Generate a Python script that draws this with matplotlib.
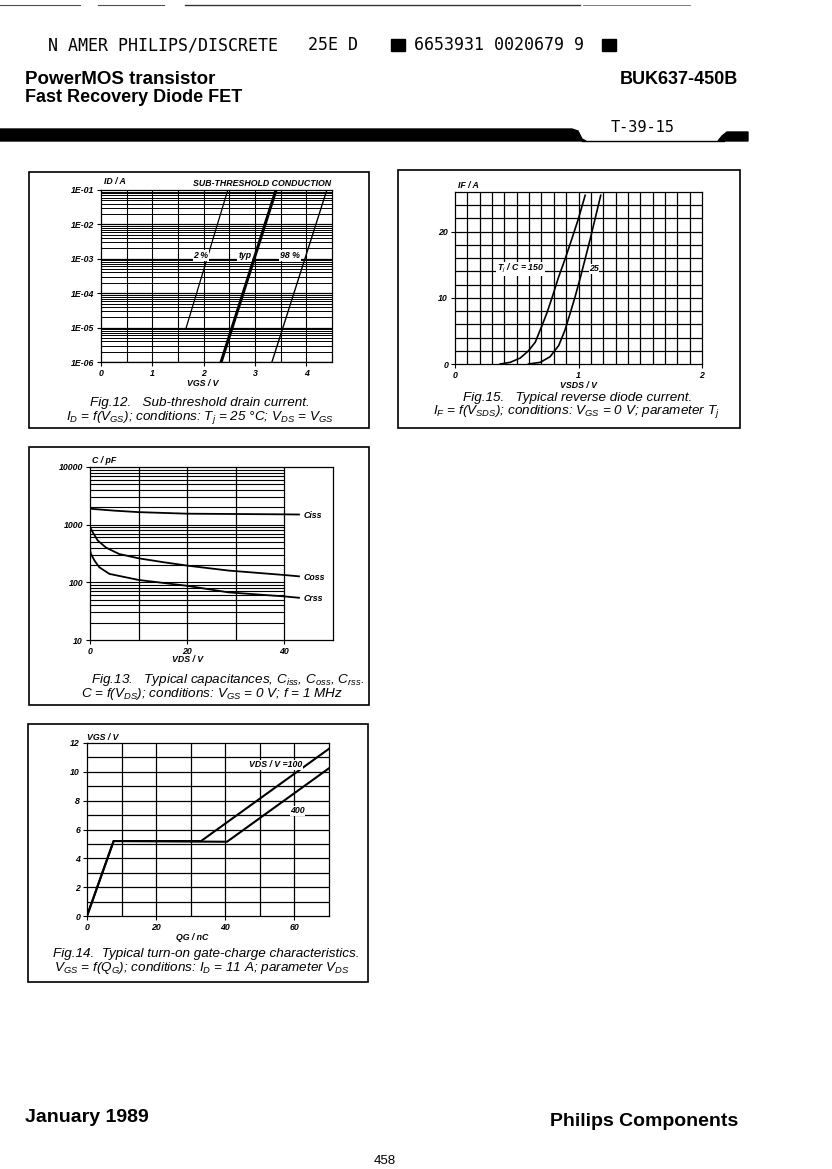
import numpy as np
import matplotlib
matplotlib.use("Agg")
import matplotlib.pyplot as plt
from matplotlib.patches import Rectangle, Polygon
from matplotlib.lines import Line2D

plt.rcParams['font.family'] = ['Liberation Sans', 'DejaVu Sans']
plt.rcParams['mathtext.fontset'] = 'custom'
plt.rcParams['mathtext.rm'] = 'Liberation Sans:italic'
plt.rcParams['mathtext.it'] = 'Liberation Sans:italic'
plt.rcParams['mathtext.default'] = 'it'

# Fig.12 sub-threshold drain current (VGS / V, ID / A)
st_vgs_2pct = [1.66, 2.47]
st_id_2pct = [1e-5, 1e-1]
st_vgs_typ = [2.34, 3.41]
st_id_typ = [1e-6, 1e-1]
st_vgs_98pct = [3.33, 4.40]
st_id_98pct = [1e-6, 1e-1]
st_xticks = [0, 1, 2, 3, 4]
st_yticks = [1e-6, 1e-5, 1e-4, 1e-3, 1e-2, 1e-1]
st_ylabels = ['1E-06', '1E-05', '1E-04', '1E-03', '1E-02', '1E-01']

# Fig.15 reverse diode current (VSDS / V, IF / A)
rd_vsds_150 = [0.366, 0.447, 0.528, 0.595, 0.65, 0.70, 0.744, 0.787, 0.838, 0.892, 0.946, 1.0, 1.054]
rd_if_150 = [0.0, 0.25, 0.9, 2.0, 3.3, 5.6, 7.7, 10.1, 13.1, 15.9, 18.9, 22.0, 25.5]
rd_vsds_25 = [0.595, 0.69, 0.77, 0.84, 0.89, 0.933, 0.973, 1.014, 1.054, 1.095, 1.135, 1.18]
rd_if_25 = [0.0, 0.25, 1.1, 2.8, 5.1, 7.7, 10.2, 13.0, 15.9, 18.9, 22.0, 25.5]

# Fig.13 capacitances (VDS / V, C / pF)
ciss_vds = [0, 5, 10, 20, 30, 40, 43]
ciss_pf = [1890, 1750, 1650, 1550, 1530, 1510, 1500]
coss_vds = [0, 0.1, 0.55, 1.6, 3.3, 6, 10, 15, 20, 28.5, 40, 43]
coss_pf = [1000, 880, 740, 530, 400, 310, 261, 224, 195, 160, 134, 127]
crss_vds = [0, 0.05, 0.2, 0.9, 1.9, 4, 10, 20, 28.5, 40, 43]
crss_pf = [400, 350, 310, 240, 183, 140, 110, 87, 67, 57, 54]

# Fig.14 gate charge (QG / nC, VGS / V)
gc_qg_100 = [0, 7.7, 33, 70]
gc_vgs_100 = [0, 5.2, 5.2, 11.6]
gc_qg_400 = [0, 7.7, 40.5, 70]
gc_vgs_400 = [0, 5.2, 5.15, 10.25]

W, H = 832, 1169
fig = plt.figure(figsize=(W / 100, H / 100), dpi=100)
fig.patch.set_facecolor('white')


def ax_at(left, top, right, bottom):
    return fig.add_axes([left / W, 1 - bottom / H, (right - left) / W, (bottom - top) / H])


def ftext(x, y, s, **kw):
    fig.text(x / W, 1 - y / H, s, **kw)


def box(x0, y0, x1, y1, lw=1.2):
    fig.add_artist(Rectangle((x0 / W, 1 - y1 / H), (x1 - x0) / W, (y1 - y0) / H,
                             fill=False, lw=lw, ec='black', transform=fig.transFigure))


def fline(xs, ys, **kw):
    fig.add_artist(Line2D([x / W for x in xs], [1 - y / H for y in ys],
                          transform=fig.transFigure, **kw))


TS = 6.3
tick_font = dict(fontsize=TS, fontweight='bold', fontstyle='italic')
cap_font = dict(fontsize=9.7, fontstyle='italic')


def style_axes(ax):
    for s in ax.spines.values():
        s.set_linewidth(0.9)
    ax.tick_params(direction='out', length=3, width=0.8, pad=2, labelsize=TS)
    for lab in ax.get_xticklabels() + ax.get_yticklabels():
        lab.set_fontweight('bold')
        lab.set_fontstyle('italic')


# ---------- page header ----------
fline([0, 80], [5, 5], color='0.3', lw=0.8)
fline([98, 164], [5, 5], color='0.3', lw=0.8)
fline([185, 580], [5, 5], color='0.2', lw=1.0)
fline([583, 690], [5, 5], color='0.4', lw=0.6)

mono = dict(family='DejaVu Sans Mono', fontsize=12, va='center')
ftext(48, 45, 'N AMER PHILIPS/DISCRETE', **mono)
ftext(308, 45, '25E D', **mono)
ftext(414, 45, '6653931 0020679 9', **mono)
fig.add_artist(Rectangle((391 / W, 1 - 51 / H), 14 / W, 12 / H, color='black',
                         transform=fig.transFigure))
fig.add_artist(Rectangle((602 / W, 1 - 51 / H), 14 / W, 12 / H, color='black',
                         transform=fig.transFigure))

ftext(25, 79, 'PowerMOS transistor', fontsize=13.5, fontweight='bold', va='center')
ftext(25, 97, 'Fast Recovery Diode FET', fontsize=13, fontweight='bold', va='center')
ftext(738, 79, 'BUK637-450B', fontsize=13, fontweight='bold', va='center', ha='right')

bar_pts = [(0, 129), (572, 129), (578, 131), (582, 139), (586, 141), (0, 141)]
fig.add_artist(Polygon([(x / W, 1 - y / H) for x, y in bar_pts], closed=True,
                       color='black', transform=fig.transFigure))
fline([582, 724], [141, 141], color='black', lw=1.0)
bar_pts2 = [(718, 141), (722, 136), (727, 132), (748, 132), (748, 141)]
fig.add_artist(Polygon([(x / W, 1 - y / H) for x, y in bar_pts2], closed=True,
                       color='black', transform=fig.transFigure))
ftext(611, 127, 'T-39-15', family='DejaVu Sans Mono', fontsize=11, va='center')

# ---------- Fig.12 ----------
box(29, 172, 369, 428)
ax = ax_at(101, 190, 332, 362)
ax.set_xlim(0, 4.5)
ax.set_yscale('log')
ax.set_ylim(1e-6, 1e-1)
for dec in [1e-6, 1e-5, 1e-4, 1e-3, 1e-2]:
    for m in range(1, 10):
        ax.axhline(dec * m, color='black', lw=0.7 if m > 1 else 0.9, zorder=1)
for xv in np.arange(0.5, 4.5, 0.5):
    ax.axvline(xv, color='black', lw=0.8, zorder=1)
ax.plot(st_vgs_2pct, st_id_2pct, color='black', lw=0.9, zorder=3)
ax.plot(st_vgs_typ, st_id_typ, color='black', lw=2.2, zorder=3)
ax.plot(st_vgs_98pct, st_id_98pct, color='black', lw=1.0, zorder=3)
ax.set_xticks(st_xticks)
ax.set_yticks(st_yticks)
ax.set_yticklabels(st_ylabels)
ax.minorticks_off()
style_axes(ax)
for txt, xv in [('2 %', 1.95), ('typ', 2.8), ('98 %', 3.68)]:
    ax.text(xv, 1.25e-3, txt, ha='center', va='center', zorder=4,
            bbox=dict(fc='white', ec='none', pad=0.6), **tick_font)
ftext(104, 182, 'ID / A', va='center', **tick_font)
ftext(331, 183, 'SUB-THRESHOLD CONDUCTION', va='center', ha='right', **tick_font)
ftext(203, 383, 'VGS / V', va='center', ha='center', **tick_font)
ftext(200, 403, 'Fig.12.   Sub-threshold drain current.', ha='center', va='center', **cap_font)
ftext(200, 417, r'$I_D$ = f($V_{GS}$); conditions: $T_j$ = 25 °C; $V_{DS}$ = $V_{GS}$',
      ha='center', va='center', **cap_font)

# ---------- Fig.15 ----------
box(398, 170, 740, 428)
ax = ax_at(455, 192, 702, 364)
ax.set_xlim(0, 2)
ax.set_ylim(0, 26)
for xv in np.arange(0.1, 2.0, 0.1):
    ax.axvline(xv, color='black', lw=0.9, zorder=1)
for yv in np.arange(2, 26, 2):
    ax.axhline(yv, color='black', lw=0.9, zorder=1)
ax.plot(rd_vsds_150, rd_if_150, color='black', lw=1.2, zorder=3)
ax.plot(rd_vsds_25, rd_if_25, color='black', lw=1.2, zorder=3)
ax.set_xticks([0, 1, 2])
ax.set_yticks([0, 10, 20])
style_axes(ax)
ax.text(0.34, 14.4, r'T$_j$ / C = 150', ha='left', va='center', zorder=4,
        bbox=dict(fc='white', ec='none', pad=0.4), **tick_font)
ax.text(1.125, 14.4, '25', ha='center', va='center', zorder=4,
        bbox=dict(fc='white', ec='none', pad=0.4), **tick_font)
ftext(458, 186, 'IF / A', va='center', **tick_font)
ftext(578, 386, 'VSDS / V', va='center', ha='center', **tick_font)
ftext(578, 398, 'Fig.15.   Typical reverse diode current.', ha='center', va='center', **cap_font)
ftext(576, 412, r'$I_F$ = f($V_{SDS}$); conditions: $V_{GS}$ = 0 V; parameter $T_j$',
      ha='center', va='center', **cap_font)

# ---------- Fig.13 ----------
box(29, 447, 369, 705)
ax = ax_at(90, 467, 333, 640)
ax.set_xlim(0, 50)
ax.set_yscale('log')
ax.set_ylim(10, 10000)
for dec in [10, 100, 1000]:
    for m in range(1, 10):
        if dec * m > 10:
            ax.plot([0, 40], [dec * m, dec * m], color='black', lw=0.8, zorder=1)
for xv in [10, 20, 30, 40]:
    ax.axvline(xv, color='black', lw=0.9, zorder=1)
ax.plot(ciss_vds, ciss_pf, color='black', lw=1.3, zorder=3)
ax.plot(coss_vds, coss_pf, color='black', lw=1.3, zorder=3)
ax.plot(crss_vds, crss_pf, color='black', lw=1.3, zorder=3)
ax.set_xticks([0, 20, 40])
ax.set_yticks([10, 100, 1000, 10000])
ax.set_yticklabels(['10', '100', '1000', '10000'])
ax.minorticks_off()
style_axes(ax)
for lab, yv in [('Ciss', 1420), ('Coss', 122), ('Crss', 52)]:
    ax.text(44, yv, lab, ha='left', va='center', **tick_font)
ftext(92, 460, 'C / pF', va='center', **tick_font)
ftext(188, 660, 'VDS / V', va='center', ha='center', **tick_font)
ftext(228, 680, r'Fig.13.   Typical capacitances, $C_{iss}$, $C_{oss}$, $C_{rss}$.',
      ha='center', va='center', **cap_font)
ftext(212, 694, r'$C$ = f($V_{DS}$); conditions: $V_{GS}$ = 0 V; f = 1 MHz',
      ha='center', va='center', **cap_font)

# ---------- Fig.14 ----------
box(28, 724, 368, 982)
ax = ax_at(87, 743, 329, 916)
ax.set_xlim(0, 70)
ax.set_ylim(0, 12)
for xv in range(10, 70, 10):
    ax.axvline(xv, color='black', lw=0.9, zorder=1)
for yv in range(1, 12):
    ax.axhline(yv, color='black', lw=0.9, zorder=1)
ax.plot(gc_qg_100, gc_vgs_100, color='black', lw=1.5, zorder=3)
ax.plot(gc_qg_400, gc_vgs_400, color='black', lw=1.5, zorder=3)
ax.set_xticks([0, 20, 40, 60])
ax.set_yticks([0, 2, 4, 6, 8, 10, 12])
style_axes(ax)
ax.text(46.8, 10.5, 'VDS / V =100', ha='left', va='center', zorder=4,
        bbox=dict(fc='white', ec='none', pad=0.4), **tick_font)
ax.text(58.8, 7.3, '400', ha='left', va='center', zorder=4,
        bbox=dict(fc='white', ec='none', pad=0.4), **tick_font)
ftext(87, 737, 'VGS / V', va='center', **tick_font)
ftext(192, 938, 'QG / nC', va='center', ha='center', **tick_font)
ftext(206, 954, 'Fig.14.  Typical turn-on gate-charge characteristics.',
      ha='center', va='center', **cap_font)
ftext(202, 968, r'$V_{GS}$ = f($Q_G$); conditions: $I_D$ = 11 A; parameter $V_{DS}$',
      ha='center', va='center', **cap_font)

# ---------- footer ----------
ftext(25, 1118, 'January 1989', fontsize=14, fontweight='bold', va='center')
ftext(738, 1122, 'Philips Components', fontsize=14, fontweight='bold', va='center', ha='right')
ftext(385, 1161, '458', fontsize=9.5, va='center', ha='center')

fig.savefig('out.png', dpi=100, facecolor='white')
